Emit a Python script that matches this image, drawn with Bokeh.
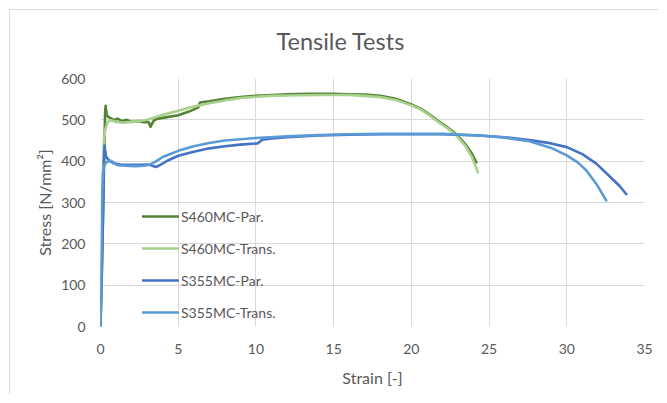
from bokeh.plotting import figure
from bokeh.models import Range1d, FixedTicker, Legend, LegendItem
from bokeh.embed import file_html
from bokeh.resources import INLINE

# ---- data (strain [-], stress [N/mm²]) ----
s460_par_x = [0, 0.15, 0.25, 0.30, 0.33, 0.40, 0.50, 0.70, 0.90, 1.10, 1.40, 1.70, 2.00, 2.40, 2.80,
              3.10, 3.22, 3.30, 3.45, 3.70, 4.20, 5.00, 5.70, 6.30, 6.40, 7.00, 8.00, 9.00, 10.0,
              11.0, 12.0, 13.5, 15.0, 16.0, 17.0, 18.0, 19.0, 20.0, 20.6, 21.2, 21.8, 22.25, 22.9,
              23.5, 23.9, 24.18]
s460_par_y = [0, 250, 440, 520, 534, 512, 507, 503, 499, 503, 497, 500, 495, 497, 494,
              494, 483, 490, 499, 503, 506, 511, 520, 530, 542, 545, 551, 555, 558,
              560, 562, 563, 563, 562, 561, 558, 551, 537, 527, 512, 495, 484, 465,
              440, 418, 397]

s460_trans_x = [0, 0.12, 0.18, 0.22, 0.30, 0.45, 0.70, 1.00, 1.50, 2.00, 2.50, 3.00, 3.50, 4.00,
                5.00, 6.00, 7.00, 8.00, 9.00, 10.0, 11.0, 12.0, 14.0, 16.0, 17.0, 18.0, 19.0,
                20.0, 20.6, 21.2, 21.8, 22.3, 22.9, 23.5, 23.9, 24.28]
s460_trans_y = [0, 250, 400, 450, 475, 495, 499, 495, 493, 495, 497, 500, 506, 512,
                522, 532, 540, 547, 553, 556, 558, 559, 560, 560, 558, 555, 548,
                535, 525, 510, 493, 480, 462, 436, 410, 373]

s355_par_x = [0, 0.10, 0.18, 0.22, 0.26, 0.35, 0.45, 0.60, 0.90, 1.30, 2.00, 2.60, 3.10, 3.40,
              3.60, 3.90, 4.30, 5.00, 6.00, 7.00, 8.00, 9.00, 10.1, 10.4, 11.0, 12.0, 14.0,
              16.0, 18.0, 20.0, 22.0, 24.4, 26.0, 27.6, 29.0, 30.0, 31.0, 31.9, 32.9, 33.4, 33.83]
s355_par_y = [0, 150, 300, 400, 438, 412, 406, 400, 394, 392, 391, 391, 392, 388,
              386, 392, 401, 413, 423, 431, 436, 440, 443, 452, 455, 458, 462,
              464, 465, 465, 465, 462, 458, 451, 443, 434, 417, 394, 358, 340, 320]

s355_trans_x = [0, 0.05, 0.10, 0.15, 0.25, 0.40, 0.69, 0.90, 1.10, 1.60, 2.20, 2.80, 3.20, 3.60,
                4.00, 5.00, 6.00, 7.00, 8.00, 9.00, 10.0, 12.0, 14.0, 16.0, 18.0, 20.0, 22.0,
                24.4, 26.0, 27.6, 29.0, 30.0, 30.7, 31.25, 31.9, 32.54]
s355_trans_y = [0, 150, 300, 370, 390, 398, 401, 395, 390, 389, 388, 389, 392, 400,
                410, 425, 436, 444, 450, 453, 456, 460, 463, 465, 466, 466, 466,
                462, 457, 448, 432, 414, 397, 378, 345, 305]

series_names = ["S460MC-Par.", "S460MC-Trans.", "S355MC-Par.", "S355MC-Trans."]
series_colors = ["#548235", "#A9D18E", "#4472C4", "#5B9BD5"]
x_ticks = [0, 5, 10, 15, 20, 25, 30, 35]
y_ticks = [0, 100, 200, 300, 400, 500, 600]

FONT = "Lato"
GREY = "#595959"

p = figure(width=658, height=394, output_backend="svg", toolbar_location=None,
           x_range=Range1d(0, 35), y_range=Range1d(0, 600),
           min_border_left=100, min_border_right=14, min_border_top=76, min_border_bottom=68)
# light chart-area border on the left and top edges (drawn behind a transparent border area)
p.styles = {"box-shadow": "inset 9px 9px 0 0 #ffffff, inset 10px 10px 0 0 #d9d9d9",
            "background-color": "#ffffff"}

p.title.text = "Tensile Tests"
p.title.text_font = FONT
p.title.text_font_size = "23.5px"
p.title.text_font_style = "normal"
p.title.text_color = GREY
p.title.align = "left"
p.title.offset = 176
p.title.standoff = 48

p.outline_line_color = None
p.background_fill_color = "white"
p.border_fill_color = None

for ax in (p.xaxis[0], p.yaxis[0]):
    ax.axis_line_color = None
    ax.major_tick_line_color = None
    ax.minor_tick_line_color = None
    ax.major_tick_out = 0
    ax.major_tick_in = 0
    ax.major_label_text_font = FONT
    ax.major_label_text_font_size = "14px"
    ax.major_label_text_color = GREY
    ax.axis_label_text_font = FONT
    ax.axis_label_text_font_size = "16px"
    ax.axis_label_text_font_style = "normal"
    ax.axis_label_text_color = GREY

p.xaxis.ticker = FixedTicker(ticks=x_ticks)
p.yaxis.ticker = FixedTicker(ticks=y_ticks)
p.xaxis.axis_label = "Strain [-]"
p.yaxis.axis_label = "Stress [N/mm²]"
p.xaxis.major_label_standoff = 17
p.yaxis.major_label_standoff = 15
p.xaxis.axis_label_standoff = 11
p.yaxis.axis_label_standoff = 4

p.xgrid.ticker = FixedTicker(ticks=x_ticks)
p.ygrid.ticker = FixedTicker(ticks=y_ticks)
p.grid.grid_line_color = "#d9d9d9"
p.grid.grid_line_width = 1

data = [(s460_par_x, s460_par_y), (s460_trans_x, s460_trans_y),
        (s355_par_x, s355_par_y), (s355_trans_x, s355_trans_y)]
items = []
for (xs, ys), name, col in zip(data, series_names, series_colors):
    r = p.line(xs, ys, line_color=col, line_width=2.6, line_join="round", line_cap="round")
    items.append(LegendItem(label=name, renderers=[r]))

legend = Legend(items=items, location=(42, 4), orientation="vertical",
                glyph_width=37, glyph_height=20, label_height=20, label_standoff=2,
                spacing=12, padding=0, margin=0,
                background_fill_alpha=0, border_line_alpha=0,
                label_text_font=FONT, label_text_font_size="14px", label_text_color=GREY)
p.add_layout(legend)

open("out.html", "w").write(file_html(p, INLINE))
